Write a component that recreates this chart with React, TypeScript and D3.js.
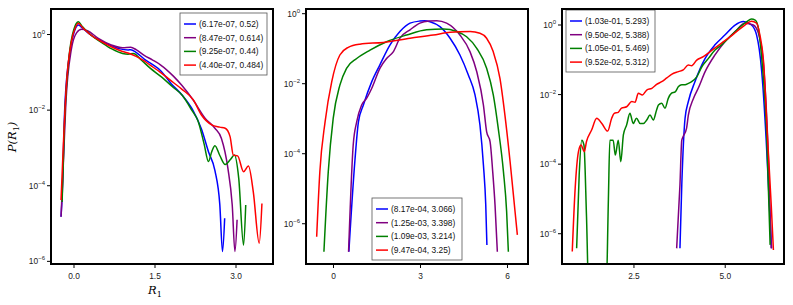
import React from 'react';
import * as d3 from 'd3';

// values: [R1, log10 P(R1)]
const p1Blue: [number, number][] = [
  [-0.24, -4.82], [-0.22, -4.3], [-0.17, -1.9], [-0.07, -0.4], [0.0, 0.05], [0.08, 0.25], [0.15, 0.18],
  [0.3, 0.0], [0.5, -0.17], [0.7, -0.3], [0.85, -0.38], [1.0, -0.41], [1.05, -0.4], [1.15, -0.47],
  [1.3, -0.65], [1.45, -0.79], [1.6, -0.95], [1.8, -1.3], [2.0, -1.6], [2.2, -2.0], [2.36, -2.5],
  [2.49, -3.1], [2.61, -3.6], [2.7, -4.5], [2.75, -5.74], [2.79, -4.86],
];
const p1Purple: [number, number][] = [
  [-0.24, -4.82], [-0.2, -3.5], [-0.15, -1.8], [-0.05, -0.4], [0.05, 0.05], [0.14, 0.14], [0.25, 0.1],
  [0.45, -0.1], [0.7, -0.28], [0.9, -0.35], [1.05, -0.34], [1.15, -0.4], [1.3, -0.55], [1.45, -0.67],
  [1.6, -0.8], [1.84, -1.1], [2.0, -1.35], [2.2, -1.72], [2.43, -2.22], [2.61, -2.48], [2.73, -2.75],
  [2.85, -3.54], [2.93, -4.51], [2.98, -5.74], [3.02, -4.9],
];
const p1Green: [number, number][] = [
  [-0.22, -4.43], [-0.18, -2.5], [-0.1, -0.7], [0.0, 0.15], [0.08, 0.34], [0.15, 0.22], [0.3, 0.0],
  [0.5, -0.2], [0.7, -0.38], [0.9, -0.5], [1.0, -0.52], [1.1, -0.5], [1.25, -0.68], [1.41, -0.89],
  [1.6, -1.1], [1.84, -1.4], [2.0, -1.6], [2.18, -2.0], [2.3, -2.3], [2.41, -2.9], [2.49, -3.36],
  [2.55, -3.1], [2.61, -2.94], [2.7, -3.2], [2.8, -3.44], [2.9, -3.3], [2.97, -3.19], [3.05, -3.8],
  [3.14, -5.57], [3.18, -4.51],
];
const p1Red: [number, number][] = [
  [-0.24, -4.38], [-0.2, -3.0], [-0.14, -1.3], [-0.05, -0.2], [0.03, 0.2], [0.08, 0.3], [0.15, 0.2],
  [0.3, 0.0], [0.5, -0.18], [0.7, -0.33], [0.9, -0.45], [1.0, -0.49], [1.15, -0.58], [1.3, -0.7],
  [1.41, -0.81], [1.6, -1.0], [1.84, -1.27], [2.0, -1.45], [2.21, -1.73], [2.36, -2.13], [2.55, -2.39],
  [2.7, -2.45], [2.8, -2.48], [2.89, -2.7], [2.95, -3.19], [3.03, -3.21], [3.14, -3.63], [3.23, -3.48],
  [3.32, -4.16], [3.43, -5.52], [3.48, -4.47],
];

const p2Blue: [number, number][] = [
  [0.53, -6.8], [0.74, -4.18], [0.86, -3.09], [1.03, -2.61], [1.32, -1.94], [1.6, -1.46], [1.95, -0.89],
  [2.29, -0.51], [2.64, -0.27], [2.98, -0.21], [3.15, -0.2], [3.33, -0.23], [3.67, -0.37], [4.02, -0.7],
  [4.36, -1.18], [4.65, -1.75], [4.88, -2.32], [5.05, -3.18], [5.17, -4.32], [5.25, -5.46], [5.29, -6.61],
];
const p2Purple: [number, number][] = [
  [0.52, -6.8], [0.68, -3.75], [0.8, -3.09], [0.97, -2.61], [1.14, -2.42], [1.32, -2.13], [1.6, -1.56],
  [1.83, -1.28], [2.06, -1.09], [2.29, -0.7], [2.64, -0.46], [2.98, -0.27], [3.3, -0.21], [3.56, -0.2],
  [3.9, -0.27], [4.36, -0.61], [4.71, -1.09], [4.94, -1.66], [5.17, -2.61], [5.28, -3.37], [5.4, -3.66],
  [5.49, -4.51], [5.57, -5.46], [5.65, -6.8],
];
const p2Green: [number, number][] = [
  [-0.33, -6.8], [-0.18, -4.51], [-0.01, -2.99], [0.22, -2.04], [0.45, -1.56], [0.8, -1.28], [1.26, -1.04],
  [1.83, -0.8], [2.52, -0.61], [3.21, -0.46], [3.79, -0.44], [4.25, -0.51], [4.59, -0.66], [4.94, -0.99],
  [5.28, -1.56], [5.51, -2.32], [5.68, -3.27], [5.86, -4.51], [5.97, -5.65], [6.03, -6.8],
];
const p2Red: [number, number][] = [
  [-0.58, -6.37], [-0.47, -4.51], [-0.29, -3.09], [-0.06, -1.94], [0.22, -1.18], [0.51, -0.96], [0.91, -0.87],
  [1.72, -0.82], [2.64, -0.7], [3.44, -0.61], [4.02, -0.53], [4.71, -0.51], [5.05, -0.56], [5.28, -0.7],
  [5.51, -1.09], [5.74, -1.85], [5.91, -2.89], [6.09, -4.23], [6.26, -5.65], [6.34, -6.32],
];

const p3Blue: [number, number][] = [
  [3.76, -6.42], [3.81, -4.6], [3.9, -2.68], [3.99, -2.2], [4.17, -1.63], [4.45, -0.96], [4.72, -0.57],
  [4.99, -0.29], [5.27, 0.0], [5.5, 0.1], [5.72, 0.0], [5.86, -0.29], [6.0, -1.34], [6.12, -3.26],
  [6.21, -5.17], [6.27, -6.42],
];
const p3Purple: [number, number][] = [
  [3.67, -6.42], [3.76, -4.6], [3.81, -3.31], [3.85, -3.2], [3.94, -2.97], [3.99, -2.59], [4.13, -2.11],
  [4.26, -1.82], [4.45, -1.34], [4.72, -0.86], [4.99, -0.48], [5.27, -0.19], [5.54, 0.05], [5.77, 0.0],
  [5.91, -0.24], [6.05, -1.15], [6.18, -3.74], [6.26, -6.42],
];
const p3Green: [number, number][] = [
  [0.93, -6.42], [1.0, -4.3], [1.07, -3.31], [1.13, -3.45], [1.2, -5.5], [1.27, -8.0], [1.73, -8.0],
  [1.8, -5.0], [1.84, -3.31], [1.93, -3.31], [1.99, -3.74], [2.07, -3.31], [2.14, -3.93], [2.21, -3.16],
  [2.3, -2.87], [2.39, -2.54], [2.48, -2.83], [2.57, -2.68], [2.67, -2.83], [2.76, -2.83], [2.85, -2.73],
  [2.94, -2.59], [3.03, -2.73], [3.12, -2.44], [3.17, -2.3], [3.26, -2.25], [3.35, -2.39], [3.44, -2.11],
  [3.53, -1.96], [3.63, -1.92], [3.72, -1.77], [3.81, -1.72], [3.9, -1.72], [3.99, -1.68], [4.08, -1.63],
  [4.22, -1.49], [4.36, -1.2], [4.54, -0.96], [4.72, -0.72], [4.9, -0.57], [5.09, -0.38], [5.36, -0.1],
  [5.59, 0.1], [5.72, 0.17], [5.82, 0.14], [5.91, -0.1], [6.0, -0.96], [6.14, -3.26], [6.23, -6.32],
];
const p3Red: [number, number][] = [
  [0.81, -6.51], [0.89, -4.69], [0.98, -3.64], [1.05, -3.45], [1.14, -3.64], [1.2, -3.35], [1.34, -3.02],
  [1.48, -2.68], [1.62, -2.83], [1.78, -3.05], [1.89, -2.68], [1.96, -2.54], [2.07, -2.51], [2.16, -2.39],
  [2.3, -2.35], [2.44, -2.2], [2.53, -2.22], [2.62, -1.96], [2.73, -2.01], [2.85, -1.87], [2.99, -1.82],
  [3.12, -1.71], [3.26, -1.63], [3.4, -1.52], [3.53, -1.42], [3.72, -1.34], [3.85, -1.29], [3.99, -1.15],
  [4.08, -1.17], [4.22, -1.01], [4.4, -0.91], [4.58, -0.77], [4.77, -0.62], [4.95, -0.48], [5.13, -0.34],
  [5.31, -0.19], [5.54, 0.0], [5.72, 0.11], [5.86, 0.05], [5.95, -0.29], [6.05, -1.05], [6.16, -3.26],
  [6.26, -5.17], [6.32, -6.47],
];

const colors = ['blue', 'purple', 'green', 'red'];
const p1Labels = ['(6.17e-07, 0.52)', '(8.47e-07, 0.614)', '(9.25e-07, 0.44)', '(4.40e-07, 0.484)'];
const p2Labels = ['(8.17e-04, 3.066)', '(1.25e-03, 3.398)', '(1.09e-03, 3.214)', '(9.47e-04, 3.25)'];
const p3Labels = ['(1.03e-01, 5.293)', '(9.50e-02, 5.388)', '(1.05e-01, 5.469)', '(9.52e-02, 5.312)'];

const p1XTicks = [0, 1.5, 3.0];
const p2XTicks = [0, 3, 6];
const p3XTicks = [2.5, 5.0];
const yTickExps = [0, -2, -4, -6];

const FONT = 'Liberation Sans, Arial, Helvetica, sans-serif';
const TOP = 9;
const BOTTOM = 264;
const W = 222;

type Panel = {
  left: number;
  xDomain: [number, number];
  yDomain: [number, number];
  series: [number, number][][];
  labels: string[];
  xTicks: number[];
  xFmt: (v: number) => string;
  legend: { x: number; y: number; w: number };
};

const panels: Panel[] = [
  {
    left: 51, xDomain: [-0.426, 3.685], yDomain: [10 ** -6.07, 10 ** 0.675],
    series: [p1Blue, p1Purple, p1Green, p1Red], labels: p1Labels,
    xTicks: p1XTicks, xFmt: d3.format('.1f'), legend: { x: 180, y: 13, w: 87 },
  },
  {
    left: 306, xDomain: [-0.948, 6.707], yDomain: [10 ** -7.15, 10 ** 0.134],
    series: [p2Blue, p2Purple, p2Green, p2Red], labels: p2Labels,
    xTicks: p2XTicks, xFmt: d3.format('d'), legend: { x: 372, y: 198, w: 90 },
  },
  {
    left: 562, xDomain: [0.529, 6.61], yDomain: [10 ** -6.87, 10 ** 0.46],
    series: [p3Blue, p3Purple, p3Green, p3Red], labels: p3Labels,
    xTicks: p3XTicks, xFmt: d3.format('.1f'), legend: { x: 566, y: 10, w: 89 },
  },
];

function PanelView({ p, idx }: { p: Panel; idx: number }) {
  const x = d3.scaleLinear().domain(p.xDomain).range([p.left, p.left + W]);
  const y = d3.scaleLog().domain(p.yDomain).range([BOTTOM, TOP]);
  const line = d3.line<[number, number]>()
    .x(d => x(d[0]))
    .y(d => y(10 ** d[1]))
    .curve(d3.curveMonotoneX);
  const clipId = `clip${idx}`;
  const lg = p.legend;
  return (
    <g>
      <defs>
        <clipPath id={clipId}>
          <rect x={p.left} y={TOP} width={W} height={BOTTOM - TOP} />
        </clipPath>
      </defs>
      <g clipPath={`url(#${clipId})`}>
        {p.series.map((s, i) => (
          <path key={i} d={line(s) || ''} fill="none" stroke={colors[i]} strokeWidth={1.5} />
        ))}
      </g>
      {/* legend */}
      <rect x={lg.x} y={lg.y} width={lg.w} height={62} fill="white" fillOpacity={0.8} stroke="#555" strokeWidth={0.8} />
      {p.labels.map((l, i) => (
        <g key={i}>
          <line x1={lg.x + 4} x2={lg.x + 16} y1={lg.y + 11 + i * 13.7} y2={lg.y + 11 + i * 13.7} stroke={colors[i]} strokeWidth={1.5} />
          <text x={lg.x + 19} y={lg.y + 14 + i * 13.7} fontSize={8.4} fontFamily={FONT} fill="#111">{l}</text>
        </g>
      ))}
      {/* frame */}
      <rect x={p.left} y={TOP} width={W} height={BOTTOM - TOP} fill="none" stroke="black" strokeWidth={2} />
      {/* y ticks */}
      {yTickExps.map(e => {
        const yy = y(10 ** e);
        if (yy < TOP - 0.5 || yy > BOTTOM + 0.5) return null;
        return (
          <g key={e}>
            <line x1={p.left - 4} x2={p.left} y1={yy} y2={yy} stroke="black" strokeWidth={1} />
            <text x={p.left - 6} y={yy + 3} textAnchor="end" fontSize={8.4} fontFamily={FONT} fill="#222">
              10<tspan dy={-4} fontSize={6}>{e === 0 ? '0' : '\u2212' + Math.abs(e)}</tspan>
            </text>
          </g>
        );
      })}
      {/* x ticks */}
      {p.xTicks.map(t => (
        <g key={t}>
          <line x1={x(t)} x2={x(t)} y1={BOTTOM} y2={BOTTOM + 4} stroke="black" strokeWidth={1} />
          <text x={x(t)} y={BOTTOM + 15} textAnchor="middle" fontSize={8.4} fontFamily={FONT} fill="#222">{p.xFmt(t)}</text>
        </g>
      ))}
    </g>
  );
}

export default function App() {
  return (
    <svg width={793} height={305} style={{ position: 'absolute', left: 0, top: 0, background: 'white' }}>
      <rect width={793} height={305} fill="white" />
      {panels.map((p, i) => <PanelView key={i} p={p} idx={i} />)}
      <text transform="translate(16,137) rotate(-90)" textAnchor="middle" fontSize={11.5} fontFamily="DejaVu Serif" fontStyle="italic">
        P(R<tspan dy={3} fontSize={8} fontStyle="normal">1</tspan><tspan dy={-3}>)</tspan>
      </text>
      <text x={155} y={294} textAnchor="middle" fontSize={11.5} fontFamily="DejaVu Serif" fontStyle="italic">
        R<tspan dy={3} fontSize={8} fontStyle="normal">1</tspan>
      </text>
    </svg>
  );
}
